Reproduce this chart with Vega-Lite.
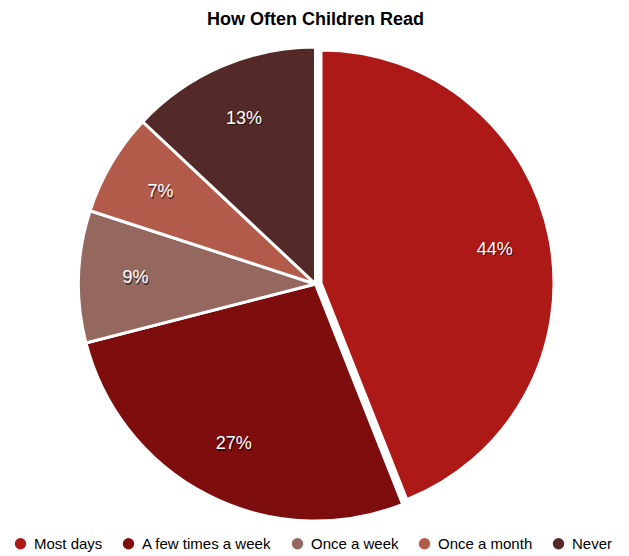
{
  "$schema": "https://vega.github.io/schema/vega-lite/v6.json",
  "autosize": {"type": "none"},
  "padding": {"top": 40, "left": 2, "right": 0, "bottom": 28},
  "width": 627,
  "height": 488,
  "background": "white",
  "title": {
    "text": "How Often Children Read",
    "font": "Liberation Sans",
    "fontSize": 18,
    "fontWeight": "bold",
    "color": "#000000",
    "anchor": "middle",
    "baseline": "alphabetic",
    "offset": 16,
    "dy": 19
  },
  "data": {
    "values": [
      {"category": "Most days", "share": 0.44, "rank": 1},
      {"category": "A few times a week", "share": 0.27, "rank": 2},
      {"category": "Once a week", "share": 0.09, "rank": 3},
      {"category": "Once a month", "share": 0.07, "rank": 4},
      {"category": "Never", "share": 0.13, "rank": 5}
    ]
  },
  "config": {
    "view": {"stroke": null},
    "legend": {
      "orient": "none",
      "legendX": 11,
      "legendY": 496,
      "direction": "horizontal",
      "symbolType": "circle",
      "symbolSize": 130,
      "symbolStrokeWidth": 0,
      "labelFont": "Liberation Sans",
      "labelFontSize": 15,
      "labelColor": "#000000",
      "labelOffset": 6,
      "columnPadding": 18,
      "title": null,
      "labelLimit": 300
    }
  },
  "encoding": {
    "theta": {"field": "share", "type": "quantitative", "stack": true},
    "order": {"field": "rank", "type": "quantitative"}
  },
  "layer": [
    {
      "mark": {"type": "arc", "outerRadius": 237, "stroke": "white", "strokeWidth": 3},
      "encoding": {
        "color": {
          "field": "category",
          "type": "nominal",
          "scale": {
            "domain": ["Most days", "A few times a week", "Once a week", "Once a month", "Never"],
            "range": ["#AD1917", "#7E0D0D", "#94675F", "#B35B4B", "#532A28"]
          },
          "legend": {"title": null, "orient": "none", "legendX": 11, "legendY": 496, "direction": "horizontal"}
        },
        "opacity": {"condition": {"test": "datum.category === 'Most days'", "value": 0}, "value": 1}
      }
    },
    {
      "mark": {"type": "arc", "outerRadius": 233, "xOffset": 5.5, "yOffset": -1, "stroke": "white", "strokeWidth": 3},
      "encoding": {
        "color": {"field": "category", "type": "nominal"},
        "opacity": {"condition": {"test": "datum.category !== 'Most days'", "value": 0}, "value": 1}
      }
    },
    {
      "mark": {"type": "text", "radius": 180, "dx": 1, "dy": 1.5, "fill": "#000000", "font": "Liberation Sans", "fontSize": 18},
      "encoding": {
        "detail": {"field": "category", "type": "nominal"},
        "text": {"field": "share", "type": "quantitative", "format": ".0%"},
        "opacity": {"condition": {"test": "datum.category === 'Most days'", "value": 0}, "value": 0.55}
      }
    },
    {
      "mark": {"type": "text", "radius": 180, "fill": "#FFFFFF", "font": "Liberation Sans", "fontSize": 18},
      "encoding": {
        "detail": {"field": "category", "type": "nominal"},
        "text": {"field": "share", "type": "quantitative", "format": ".0%"},
        "opacity": {"condition": {"test": "datum.category === 'Most days'", "value": 0}, "value": 1}
      }
    },
    {
      "mark": {"type": "text", "radius": 177, "xOffset": 5.5, "yOffset": -1, "dx": 1, "dy": 1.5, "fill": "#000000", "font": "Liberation Sans", "fontSize": 18},
      "encoding": {
        "detail": {"field": "category", "type": "nominal"},
        "text": {"field": "share", "type": "quantitative", "format": ".0%"},
        "opacity": {"condition": {"test": "datum.category !== 'Most days'", "value": 0}, "value": 0.55}
      }
    },
    {
      "mark": {"type": "text", "radius": 177, "xOffset": 5.5, "yOffset": -1, "fill": "#FFFFFF", "font": "Liberation Sans", "fontSize": 18},
      "encoding": {
        "detail": {"field": "category", "type": "nominal"},
        "text": {"field": "share", "type": "quantitative", "format": ".0%"},
        "opacity": {"condition": {"test": "datum.category !== 'Most days'", "value": 0}, "value": 1}
      }
    }
  ]
}
